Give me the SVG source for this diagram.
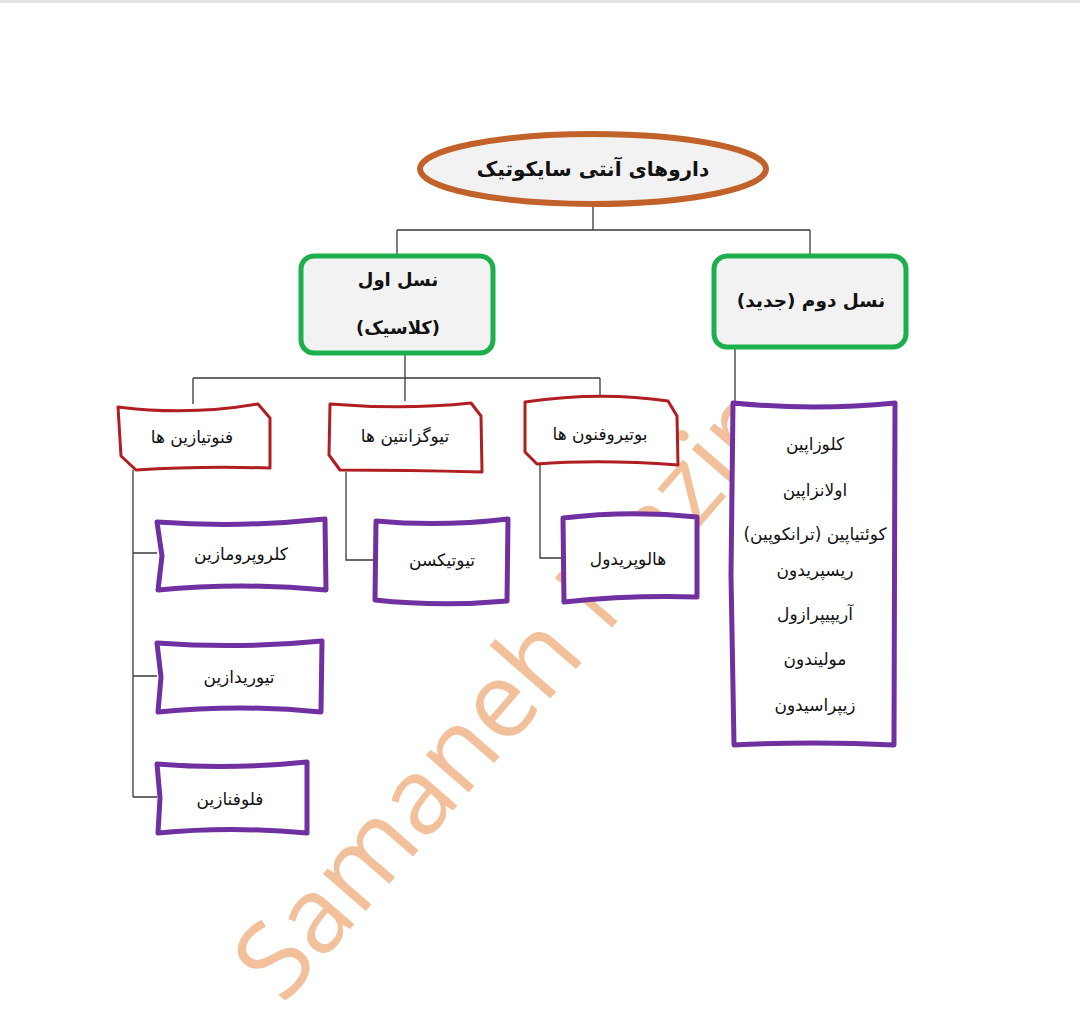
<svg xmlns="http://www.w3.org/2000/svg" width="1080" height="1010" viewBox="0 0 1080 1010">
<style>
.t{font-family:"DejaVu Sans","Noto Sans",sans-serif;fill:#111;text-anchor:middle;direction:rtl}
.b{font-weight:bold}
.red{fill:#fff;stroke:#B01E22;stroke-width:3;stroke-linejoin:round}
.pur{fill:#fff;stroke:#7030A0;stroke-width:5;stroke-linejoin:round}
.grn{fill:#F2F2F2;stroke:#1DAE4E;stroke-width:5}
.con{fill:none;stroke:#3a3a3a;stroke-width:1.3}
.wm{font-family:"Open Sans","Lato",sans-serif;font-weight:normal;fill:#F2C19C}
</style>
<rect x="0" y="0" width="1080" height="1010" fill="#fff"/>
<rect x="0" y="0" width="1080" height="3" fill="#e2e2e2"/>
<text class="wm" font-size="106" transform="translate(283,1006) rotate(-49)">Samaneh Nazir</text>
<g id="connectors">
<path class="con" d="M593,205 V230 M397,230 H810 M397,230 V255 M810,230 V255"/>
<path class="con" d="M405,353 V378 M193,378 H600 M193,378 V404 M405,378 V401 M600,378 V398"/>
<path class="con" d="M735,347 V403"/>
<path class="con" d="M133,470 V797 M133,553 H157 M133,676 H157 M133,797 H157"/>
<path class="con" d="M346,472 V560 H376"/>
<path class="con" d="M540,465 V558 H563"/>
</g>
<g id="root">
<ellipse cx="593" cy="169" rx="173" ry="35" fill="#F2F2F2" stroke="#C0622A" stroke-width="6"/>
<text class="t b" x="593" y="176" font-size="20">داروهای آنتی سایکوتیک</text>
</g>
<g id="gen1">
<rect class="grn" x="301" y="256" width="192" height="97" rx="13"/>
<text class="t b" x="398" y="286" font-size="18">نسل اول</text>
<text class="t b" x="398" y="334" font-size="18">(کلاسیک)</text>
</g>
<g id="gen2">
<rect class="grn" x="714" y="256" width="192" height="91" rx="13"/>
<text class="t b" x="811" y="307" font-size="18.5">نسل دوم (جدید)</text>
</g>
<g id="phenothiazines">
<path class="red" d="M118,407 Q190,416 258,404 L270,418 L270,468 Q200,466 136,470 L121,456 Z"/>
<text class="t" x="192" y="443" font-size="17">فنوتیازین ها</text>
</g>
<g id="thioxanthenes">
<path class="red" d="M330,404 Q405,410 471,403 L481,416 L482,472 Q405,470 340,470 L329,455 Z"/>
<text class="t" x="405" y="442" font-size="17">تیوگزانتین ها</text>
</g>
<g id="butyrophenones">
<path class="red" d="M525,402 Q600,391 668,401 L677,416 L678,465 Q600,459 537,464 L525,452 Z"/>
<text class="t" x="600" y="440" font-size="17">بوتیروفنون ها</text>
</g>
<g id="chlorpromazine">
<path class="pur" d="M157,522 Q240,528 325,519 L326,590 Q240,582 158,590 L162,556 Z"/>
<text class="t" x="241" y="560" font-size="17">کلروپرومازین</text>
</g>
<g id="thioridazine">
<path class="pur" d="M157,643 Q240,649 322,641 L321,712 Q240,704 158,712 L161,677 Z"/>
<text class="t" x="239" y="683" font-size="17">تیوریدازین</text>
</g>
<g id="fluphenazine">
<path class="pur" d="M157,764 Q230,770 307,762 L307,833 Q230,826 158,833 L160,798 Z"/>
<text class="t" x="230" y="805" font-size="17">فلوفنازین</text>
</g>
<g id="thiothixene">
<path class="pur" d="M376,521 Q440,527 508,519 L507,601 Q440,607 375,600 Z"/>
<text class="t" x="442" y="566" font-size="17">تیوتیکسن</text>
</g>
<g id="haloperidol">
<path class="pur" d="M563,518 Q630,510 697,517 L697,597 Q630,595 564,602 Z"/>
<text class="t" x="628" y="565" font-size="17">هالوپریدول</text>
</g>
<g id="atypicals">
<path class="pur" d="M733,403 Q815,411 895,403 L894,745 Q815,741 734,745 L731,575 Z"/>
<text class="t" x="815" y="450" font-size="17">کلوزاپین</text>
<text class="t" x="815" y="496" font-size="17">اولانزاپین</text>
<text class="t" x="815" y="540" font-size="17">کوئتیاپین (ترانکوپین)</text>
<text class="t" x="815" y="576" font-size="17">ریسپریدون</text>
<text class="t" x="815" y="620" font-size="17">آریپیپرازول</text>
<text class="t" x="815" y="665" font-size="17">مولیندون</text>
<text class="t" x="815" y="711" font-size="17">زیپراسیدون</text>
</g>
</svg>
